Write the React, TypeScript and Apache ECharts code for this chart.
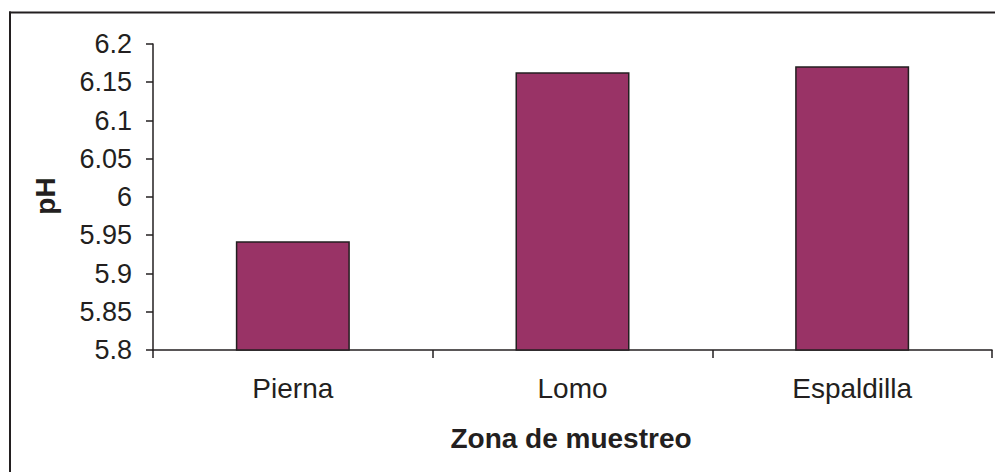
import React, { useEffect, useRef } from "react";
import * as echarts from "echarts";

const categories = ["Pierna", "Lomo", "Espaldilla"];
const phValues = [5.942, 6.163, 6.171];
const yTicks = { min: 5.8, max: 6.2, interval: 0.05 };
const xAxisTitle = "Zona de muestreo";
const yAxisTitle = "pH";

const INK = "#231f20";
const FONT = "'Liberation Sans', Arial, Helvetica, sans-serif";

export default function App() {
  const ref = useRef<HTMLDivElement>(null);
  useEffect(() => {
    if (!ref.current) return;
    const chart = echarts.init(ref.current, undefined, { renderer: "svg" });
    chart.setOption({
      animation: false,
      backgroundColor: "#ffffff",
      grid: { left: 153, right: 3, top: 44, bottom: 122, containLabel: false },
      xAxis: {
        type: "category",
        data: categories,
        boundaryGap: true,
        axisLine: { show: true, lineStyle: { color: INK, width: 1.5 } },
        axisTick: { show: true, alignWithLabel: false, inside: false, length: 8, lineStyle: { color: INK, width: 1.5 } },
        axisLabel: { color: INK, fontFamily: FONT, fontSize: 28, margin: 24 },
        splitLine: { show: false },
      },
      yAxis: {
        type: "value",
        min: yTicks.min,
        max: yTicks.max,
        interval: yTicks.interval,
        axisLine: { show: true, lineStyle: { color: INK, width: 1.5 } },
        axisTick: { show: true, length: 7, lineStyle: { color: INK, width: 1.5 } },
        axisLabel: {
          color: INK,
          fontFamily: FONT,
          fontSize: 27,
          margin: 21,
          formatter: (v: number) => String(parseFloat(v.toFixed(2))),
        },
        splitLine: { show: false },
      },
      series: [
        {
          type: "bar",
          data: phValues,
          barWidth: 114,
          itemStyle: { color: "#993366", borderColor: INK, borderWidth: 1.5 },
        },
      ],
      graphic: [
        {
          type: "line",
          shape: { x1: 9, y1: 12.5, x2: 995, y2: 12.5 },
          style: { stroke: INK, lineWidth: 2 },
        },
        {
          type: "line",
          shape: { x1: 10, y1: 11.5, x2: 10, y2: 472 },
          style: { stroke: INK, lineWidth: 2 },
        },
        {
          type: "text",
          x: 571,
          y: 438,
          style: {
            text: xAxisTitle,
            fill: INK,
            font: `bold 28px ${FONT}`,
            align: "center",
            verticalAlign: "middle",
          },
        },
        {
          type: "text",
          x: 45,
          y: 196,
          rotation: Math.PI / 2,
          style: {
            text: yAxisTitle,
            fill: INK,
            font: `bold 28px ${FONT}`,
            align: "center",
            verticalAlign: "middle",
          },
        },
      ],
    });
    return () => chart.dispose();
  }, []);
  return (
    <div
      ref={ref}
      style={{ position: "fixed", left: 0, top: 0, width: 995, height: 472, background: "#fff" }}
    />
  );
}
